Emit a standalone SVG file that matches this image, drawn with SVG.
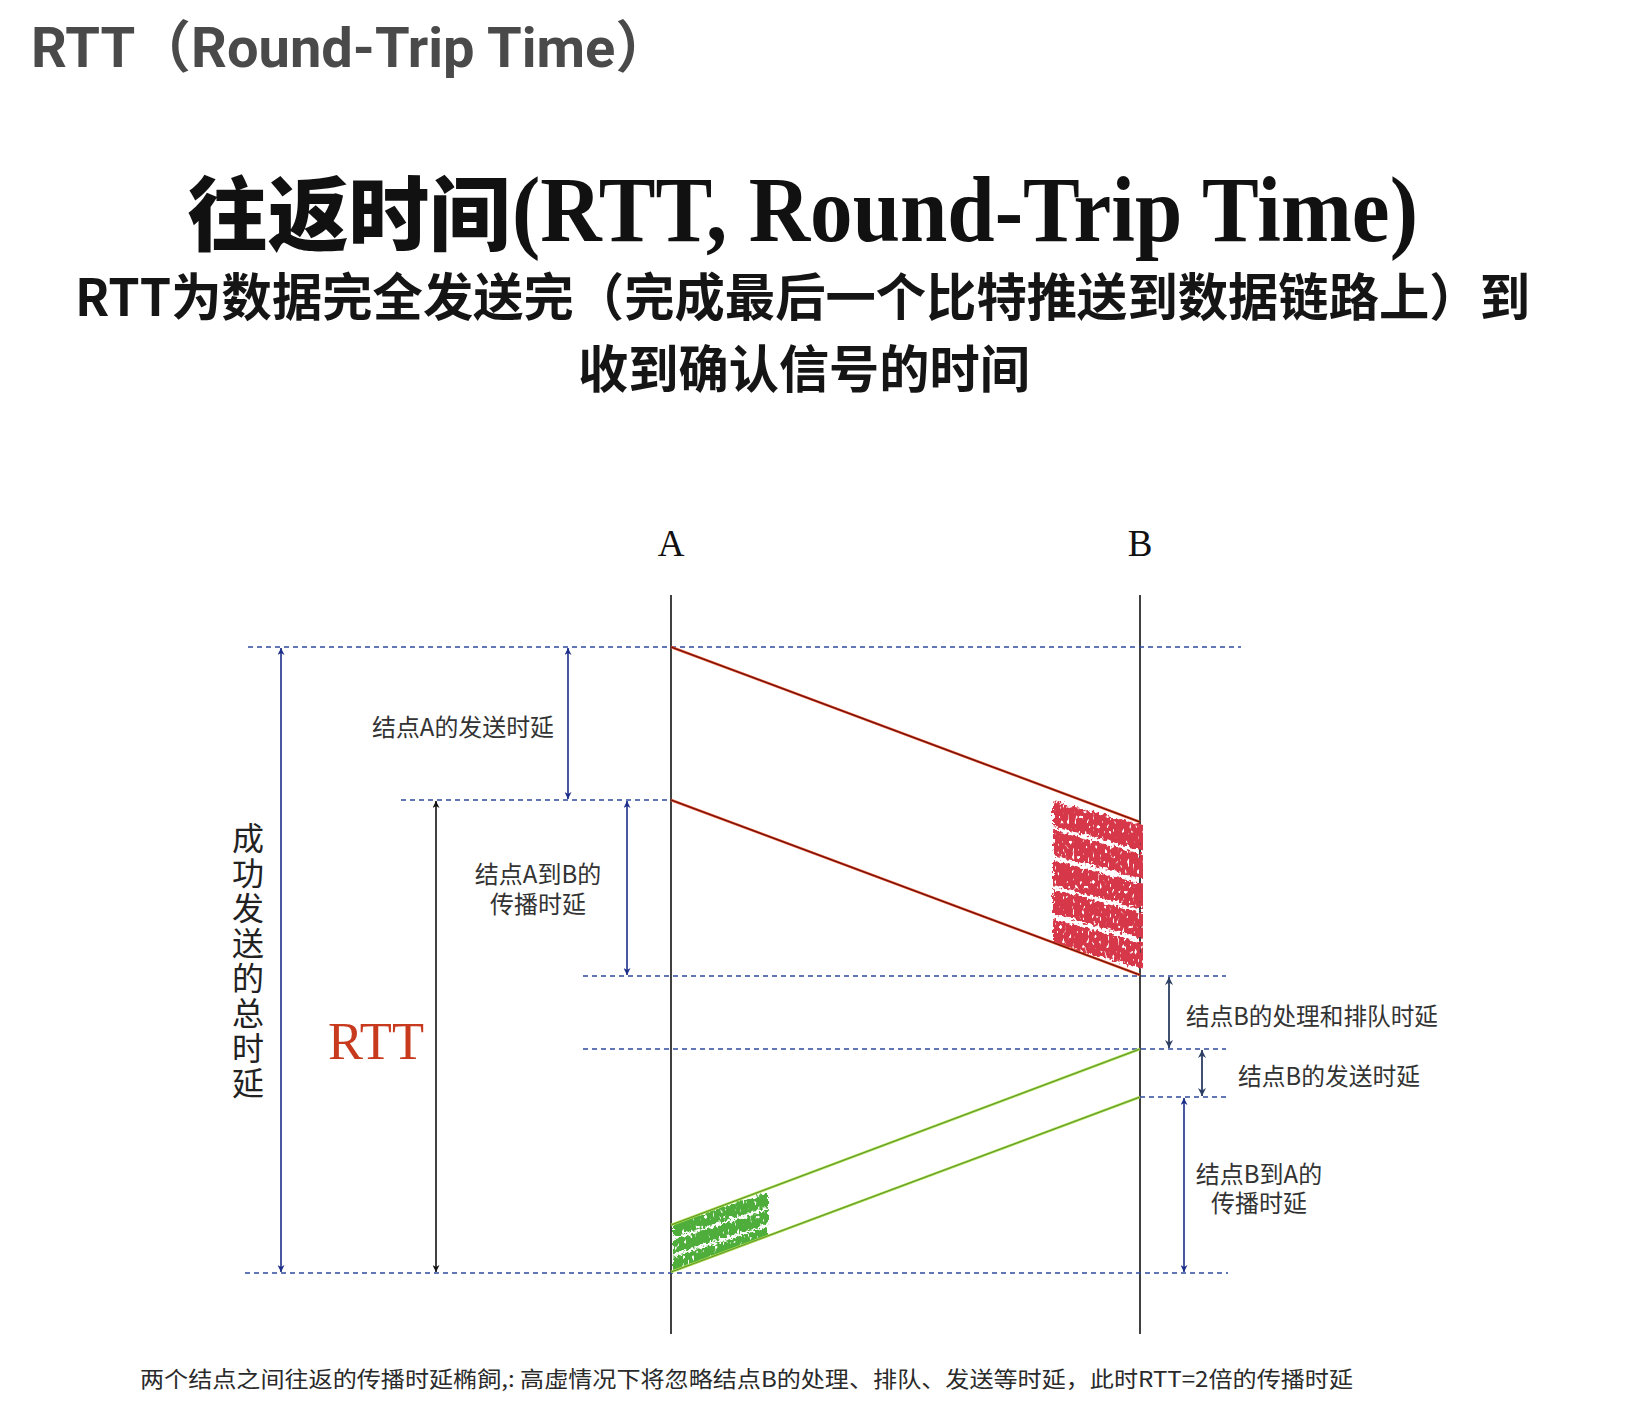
<svg xmlns="http://www.w3.org/2000/svg" width="1632" height="1402" viewBox="0 0 1632 1402">
  <style>
    .title { font-family: Roboto, "Noto Sans CJK SC", sans-serif; font-weight: 700; fill: #4a4a4a; }
    .h2cjk { font-family: "Noto Sans CJK SC", sans-serif; font-weight: 900; fill: #111; }
    .h2lat { font-family: "Liberation Serif", serif; font-weight: 700; fill: #111; }
    .h3 { font-family: "Noto Sans CJK SC", sans-serif; font-weight: 700; fill: #151515; }
    .lbl { font-family: "Noto Sans CJK SC", sans-serif; font-size: 24px; fill: #333; }
    .node { font-family: "Liberation Serif", serif; font-size: 37px; fill: #111; }
    .vlbl { font-family: "Noto Sans CJK SC", sans-serif; font-size: 32px; fill: #222; writing-mode: vertical-rl; letter-spacing: 3px; }
    .rtt { font-family: "Liberation Serif", serif; font-size: 53px; fill: #c83a1e; }
    .cap { font-family: "Noto Sans CJK SC", sans-serif; font-size: 22px; fill: #2a2a2a; }
    .dot { stroke: #2f4a9e; stroke-width: 1.6; stroke-dasharray: 5 4; fill: none; }
    .life { stroke: #111; stroke-width: 1.6; fill: none; }
    .arrN { stroke: #1c2e8a; stroke-width: 1.6; marker-start: url(#mN); marker-end: url(#mN); }
    .arrK { stroke: #111; stroke-width: 1.6; marker-start: url(#mK); marker-end: url(#mK); }
    .arrS { stroke: #2c3e63; stroke-width: 1.8; marker-start: url(#mS); marker-end: url(#mS); }
  </style>
  <defs>
    <marker id="mN" viewBox="0 0 10 10" refX="10" refY="5" markerWidth="7" markerHeight="7" markerUnits="userSpaceOnUse" orient="auto-start-reverse">
      <path d="M0,0 L10,5 L0,10 L3,5 Z" fill="#1c2e8a"/>
    </marker>
    <marker id="mK" viewBox="0 0 10 10" refX="10" refY="5" markerWidth="7" markerHeight="7" markerUnits="userSpaceOnUse" orient="auto-start-reverse">
      <path d="M0,0 L10,5 L0,10 L3,5 Z" fill="#111"/>
    </marker>
    <marker id="mS" viewBox="0 0 10 10" refX="10" refY="5" markerWidth="8" markerHeight="8" markerUnits="userSpaceOnUse" orient="auto-start-reverse">
      <path d="M0,0 L10,5 L0,10 L3,5 Z" fill="#2c3e63"/>
    </marker>
    <filter id="rough" x="-10%" y="-10%" width="120%" height="120%">
      <feTurbulence type="fractalNoise" baseFrequency="0.3" numOctaves="2" seed="4" result="n"/>
      <feDisplacementMap in="SourceGraphic" in2="n" scale="8" xChannelSelector="R" yChannelSelector="G" result="d"/>
      <feTurbulence type="fractalNoise" baseFrequency="0.4 0.2" numOctaves="1" seed="11" result="t"/>
      <feColorMatrix in="t" type="matrix" values="0 0 0 0 0  0 0 0 0 0  0 0 0 0 0  0 0 0 -12 8.6" result="m"/>
      <feComposite in="d" in2="m" operator="in"/>
    </filter>
    <clipPath id="clipRed">
      <polygon points="671,647 1143,822 1143,976 671,800"/>
    </clipPath>
    <clipPath id="clipGreen">
      <polygon points="1140,1049 671,1225 671,1273 1140,1097"/>
    </clipPath>
  </defs>
  <rect width="1632" height="1402" fill="#fff"/>

  <g id="titles">
    <text class="title" x="31" y="67" font-size="56">RTT（Round-Trip Time）</text>
    <text class="h2cjk" x="187" y="244" font-size="81" textLength="323" lengthAdjust="spacingAndGlyphs">往返时间</text>
    <text class="h2lat" x="512" y="241" font-size="94" textLength="906" lengthAdjust="spacingAndGlyphs">(RTT, Round-Trip Time)</text>
    <text class="h3" x="75" y="316" font-size="51" textLength="1455" lengthAdjust="spacingAndGlyphs">RTT为数据完全发送完（完成最后一个比特推送到数据链路上）到</text>
    <text class="h3" x="578" y="388" font-size="51" textLength="452" lengthAdjust="spacingAndGlyphs">收到确认信号的时间</text>
  </g>

  <g id="node-A">
    <text class="node" x="671" y="556" text-anchor="middle">A</text>
    <line class="life" x1="671" y1="595" x2="671" y2="1334"/>
  </g>
  <g id="node-B">
    <text class="node" x="1140" y="556" text-anchor="middle">B</text>
    <line class="life" x1="1140" y1="595" x2="1140" y2="1334"/>
  </g>

  <g id="guides">
    <line class="dot" x1="248" y1="647" x2="1241" y2="647"/>
    <line class="dot" x1="401" y1="800" x2="671" y2="800"/>
    <line class="dot" x1="583" y1="976" x2="1226" y2="976"/>
    <line class="dot" x1="583" y1="1049" x2="1226" y2="1049"/>
    <line class="dot" x1="1140" y1="1097" x2="1228" y2="1097"/>
    <line class="dot" x1="245" y1="1273" x2="1228" y2="1273"/>
  </g>

  <g id="red-signal">
    <g clip-path="url(#clipRed)">
      <g filter="url(#rough)" fill="#d63848">
        <polygon points="1053,801 1145,826 1145,851 1053,826"/>
        <polygon points="1053,830 1145,855 1145,880 1053,855"/>
        <polygon points="1053,860 1145,885 1145,910 1053,885"/>
        <polygon points="1053,889 1145,914 1145,939 1053,914"/>
        <polygon points="1053,919 1145,944 1145,969 1053,944"/>
      </g>
    </g>
    <line x1="671" y1="647" x2="1140" y2="822" stroke="#e0502a" stroke-width="2.6"/>
    <line x1="671" y1="647" x2="1140" y2="822" stroke="#6a0d0d" stroke-width="1.2"/>
    <line x1="671" y1="800" x2="1140" y2="975" stroke="#e0502a" stroke-width="2.6"/>
    <line x1="671" y1="800" x2="1140" y2="975" stroke="#6a0d0d" stroke-width="1.2"/>
  </g>

  <g id="green-signal">
    <g clip-path="url(#clipGreen)">
      <g filter="url(#rough)" fill="#4fae3a">
        <polygon points="673,1223 768,1193 768,1207 673,1237"/>
        <polygon points="673,1240 768,1210 768,1224 673,1254"/>
        <polygon points="673,1257 768,1227 768,1241 673,1271"/>
      </g>
    </g>
    <line x1="1140" y1="1049" x2="671" y2="1225" stroke="#a6dc4a" stroke-width="2.6"/>
    <line x1="1140" y1="1049" x2="671" y2="1225" stroke="#5c8f2c" stroke-width="1"/>
    <line x1="1140" y1="1097" x2="671" y2="1272" stroke="#a6dc4a" stroke-width="2.6"/>
    <line x1="1140" y1="1097" x2="671" y2="1272" stroke="#5c8f2c" stroke-width="1"/>
  </g>

  <g id="connectors">
    <line class="arrN" x1="568" y1="648" x2="568" y2="799"/>
    <line class="arrN" x1="627" y1="801" x2="627" y2="975"/>
    <line class="arrN" x1="281" y1="648" x2="281" y2="1272"/>
    <line class="arrK" x1="436" y1="801" x2="436" y2="1272"/>
    <line class="arrS" x1="1169" y1="977" x2="1169" y2="1048"/>
    <line class="arrS" x1="1202" y1="1050" x2="1202" y2="1096"/>
    <line class="arrN" x1="1184" y1="1098" x2="1184" y2="1272"/>
  </g>

  <g id="labels">
    <text class="lbl" x="372" y="736" textLength="182" lengthAdjust="spacingAndGlyphs">结点A的发送时延</text>
    <text class="lbl" text-anchor="middle"><tspan x="538" y="883">结点A到B的</tspan><tspan x="538" y="913">传播时延</tspan></text>
    <text class="lbl" x="1186" y="1025" textLength="252" lengthAdjust="spacingAndGlyphs">结点B的处理和排队时延</text>
    <text class="lbl" x="1238" y="1085" textLength="182" lengthAdjust="spacingAndGlyphs">结点B的发送时延</text>
    <text class="lbl" text-anchor="middle"><tspan x="1259" y="1183">结点B到A的</tspan><tspan x="1259" y="1212">传播时延</tspan></text>
    <text class="rtt" x="328" y="1059" textLength="96" lengthAdjust="spacingAndGlyphs">RTT</text>
    <text class="vlbl" x="248" y="822">成功发送的总时延</text>
    <text class="cap" x="140" y="1387" textLength="1213" lengthAdjust="spacingAndGlyphs">两个结点之间往返的传播时延椭飼,: 高虛情况下将忽略结点B的处理、排队、发送等时延，此时RTT=2倍的传播时延</text>
  </g>
</svg>
